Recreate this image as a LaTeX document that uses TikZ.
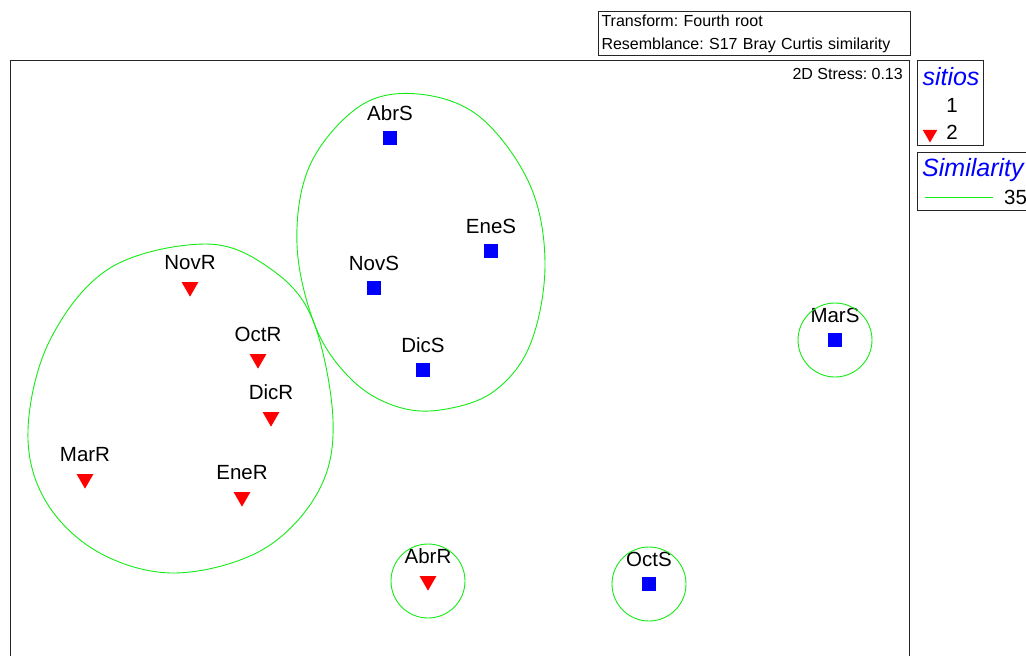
\documentclass[tikz,border=0pt]{standalone}
\usepackage{fontspec}
\setmainfont{Liberation Sans}
\frenchspacing
\usetikzlibrary{positioning}
\usetikzlibrary{shapes.geometric}
\definecolor{simgreen}{RGB}{20,235,20}
\tikzset{sitea/.style={rectangle,fill=blue,minimum size=14pt,inner sep=0pt,outer sep=0pt}}
\tikzset{siteb/.style={regular polygon,regular polygon sides=3,shape border rotate=180,fill=red,minimum size=19.3pt,inner sep=0pt,outer sep=0pt}}
\tikzset{sample/.style={font=\fontsize{20.5}{24}\selectfont,inner sep=0pt,text depth=0pt}}
\tikzset{cluster/.style={draw=simgreen,line width=0.9pt}}
\tikzset{panel/.style={draw=black!85,line width=1pt}}
\tikzset{legtitle/.style={font=\fontsize{25}{28}\selectfont\itshape,text=blue,inner sep=0pt}}

\begin{document}
\begin{tikzpicture}[x=1pt,y=-1pt]
    \path[use as bounding box,clip] (0,0) rectangle (1026,656);
    % frame of the ordination plot
    \draw[panel] (10,656) -- (10,60) -- (909,60) -- (909,656);
    \node[font=\fontsize{16}{19}\selectfont,anchor=east,inner sep=0pt] (stress) at (903,74) {2D Stress: 0.13};
    \node[panel,anchor=north west,minimum width=312,minimum height=43,text width=306,align=left,inner sep=3pt,
      font=\fontsize{16}{23}\selectfont] (info) at (598,11) {Transform: Fourth root\\Resemblance: S17 Bray Curtis similarity};
    % site 1
    \node[sitea] (AbrS) at (390,138) {};
    \node[sitea] (EneS) at (491,251) {};
    \node[sitea] (NovS) at (374,288) {};
    \node[sitea] (DicS) at (423,370) {};
    \node[sitea] (MarS) at (835,340) {};
    \node[sitea] (OctS) at (649,584) {};
    \foreach \s in {AbrS,EneS,NovS,DicS,MarS,OctS}
      \node[sample,above=10pt of \s] (\s-lbl) {\s};
    % site 2
    \node[siteb] (NovR) at (190,287) {};
    \node[siteb] (OctR) at (258,359) {};
    \node[siteb] (DicR) at (271,417) {};
    \node[siteb] (MarR) at (85,479) {};
    \node[siteb] (EneR) at (242,497) {};
    \node[siteb] (AbrR) at (428,581) {};
    \foreach \s in {NovR,OctR,DicR,MarR,EneR,AbrR}
      \node[sample,above=12.5pt of \s] (\s-lbl) {\s};
    % similarity 35 contours
    \draw[cluster] plot[smooth cycle,tension=0.6] coordinates {(418,94) (480,117) (530,185) (545,265)
      (530,345) (493,392) (440,410) (395,406) (352,380) (316,328) (297,245) (310,165) (360,106)};
    \draw[cluster] plot[smooth cycle,tension=0.6] coordinates {(205,244) (268,267) (312,318) (333,420)
      (318,492) (262,550) (175,573) (98,552) (45,500) (28,430) (50,340) (110,268)};
    \draw[cluster] (MarS.center) circle (37pt);
    \draw[cluster] (AbrR.center) circle (37pt);
    \draw[cluster] (OctS.center) circle (37pt);
    % legends
    \node[panel,anchor=north west,minimum width=66,minimum height=85,inner sep=0pt] (sitiosbox) at (917,60) {};
    \node[legtitle] (sitios) at (951,77) {sitios};
    \node[sample] (leg1) at (952,105) {1};
    \node[sample] (leg2) at (952,132) {2};
    \node[siteb,minimum size=17pt] (legtri) at (930,134) {};
    \node[panel,anchor=north west,minimum width=130,minimum height=58,inner sep=0pt] (simbox) at (917,152) {};
    \node[legtitle,anchor=west] (simil) at (922,170) {Similarity};
    \coordinate (keya) at (925,197);
    \coordinate (keyb) at (993,197);
    \draw[cluster] (keya) -- (keyb);
    \node[sample,anchor=west] (leg35) at (1004,197) {35};
\end{tikzpicture}
\end{document}
